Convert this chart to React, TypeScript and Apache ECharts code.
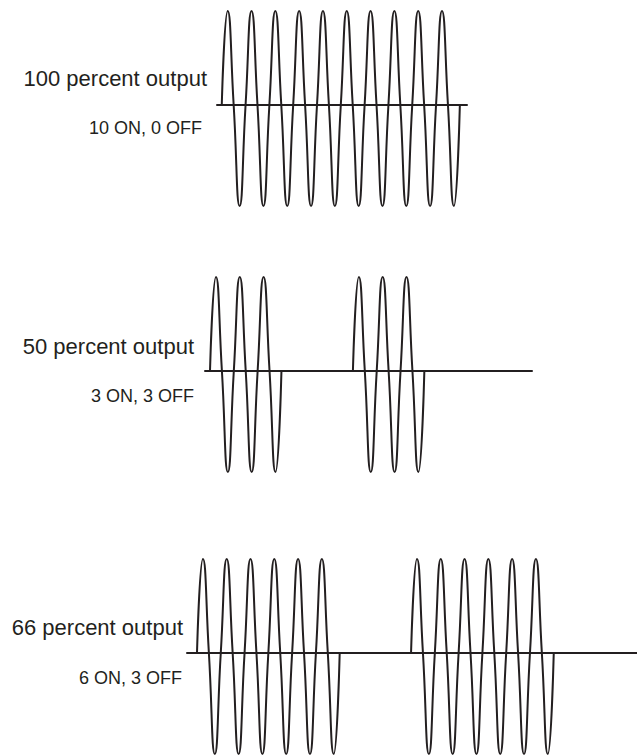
import React, { useEffect, useRef } from "react";
import * as echarts from "echarts";

// ---- data ----
const outputLabels = ["100 percent output", "50 percent output", "66 percent output"];
const cycleLabels = ["10 ON, 0 OFF", "3 ON, 3 OFF", "6 ON, 3 OFF"];
const onCycles = [10, 3, 6];
const offCycles = [0, 3, 3];
const burstCounts = [1, 2, 2];
// one AC cycle sampled at quarter periods (relative amplitude)
const cycleShape = [0, 0.93, 0, -1];
// axis extents in cycles
const axisMin = [-0.2, -0.21, -0.42];
const axisMax = [10.3, 13.52, 18.5];

// ---- layout (pixels) ----
const gridBoxes = [
  { left: 217, top: 11, width: 250, height: 195 },
  { left: 205, top: 277, width: 327, height: 195 },
  { left: 187, top: 559, width: 452, height: 195 },
];
const titlePos = [
  { x: 207, y: 78 },
  { x: 194, y: 346 },
  { x: 183, y: 627 },
];
const subPos = [
  { x: 202, y: 128 },
  { x: 194, y: 396 },
  { x: 182, y: 678 },
];

const INK = "#231f20";
const FONT = "'Liberation Sans', Arial, Helvetica, sans-serif";

function burstData(start: number, on: number): number[][] {
  const pts: number[][] = [];
  for (let c = 0; c < on; c++) {
    for (let q = 0; q < cycleShape.length; q++) {
      pts.push([start + c + q / cycleShape.length, cycleShape[q]]);
    }
  }
  pts.push([start + on, cycleShape[0]]);
  return pts;
}

export default function App() {
  const ref = useRef<HTMLDivElement>(null);
  useEffect(() => {
    if (!ref.current) return;
    const chart = echarts.init(ref.current, undefined, { renderer: "svg" });
    const grid: any[] = [];
    const xAxis: any[] = [];
    const yAxis: any[] = [];
    const series: any[] = [];
    const graphic: any[] = [];
    for (let i = 0; i < 3; i++) {
      grid.push({ ...gridBoxes[i], containLabel: false });
      xAxis.push({
        type: "value",
        gridIndex: i,
        min: axisMin[i],
        max: axisMax[i],
        axisLine: { show: true, onZero: true, lineStyle: { color: INK, width: 2 } },
        axisTick: { show: false },
        axisLabel: { show: false },
        splitLine: { show: false },
      });
      yAxis.push({
        type: "value",
        gridIndex: i,
        min: -1,
        max: 0.93,
        axisLine: { show: false },
        axisTick: { show: false },
        axisLabel: { show: false },
        splitLine: { show: false },
      });
      for (let b = 0; b < burstCounts[i]; b++) {
        const start = b * (onCycles[i] + offCycles[i]);
        series.push({
          type: "line",
          xAxisIndex: i,
          yAxisIndex: i,
          data: burstData(start, onCycles[i]),
          smooth: 0.55,
          showSymbol: false,
          symbol: "none",
          lineStyle: { color: INK, width: 2 },
          silent: true,
        });
      }
      graphic.push({
        type: "text",
        x: titlePos[i].x,
        y: titlePos[i].y,
        style: {
          text: outputLabels[i],
          fill: INK,
          font: `22px ${FONT}`,
          textAlign: "right",
          textVerticalAlign: "middle",
        },
      });
      graphic.push({
        type: "text",
        x: subPos[i].x,
        y: subPos[i].y,
        style: {
          text: cycleLabels[i],
          fill: INK,
          font: `18px ${FONT}`,
          textAlign: "right",
          textVerticalAlign: "middle",
        },
      });
    }
    chart.setOption({
      animation: false,
      backgroundColor: "#ffffff",
      grid,
      xAxis,
      yAxis,
      series,
      graphic,
    });
    return () => chart.dispose();
  }, []);
  return (
    <div
      ref={ref}
      style={{ position: "fixed", left: 0, top: 0, width: 637, height: 755 }}
    />
  );
}
